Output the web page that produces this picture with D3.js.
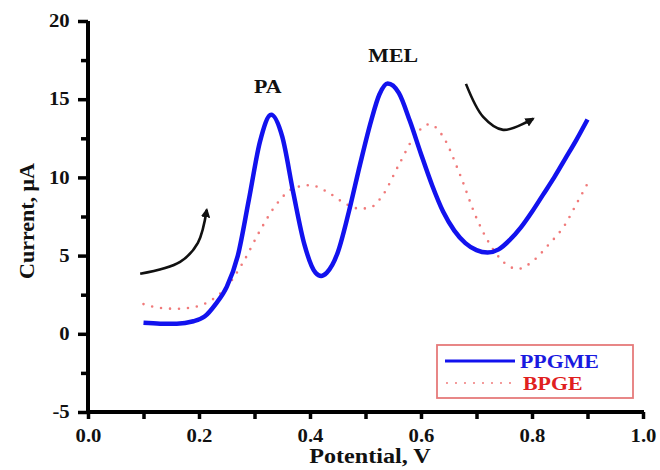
<!DOCTYPE html>
<html><head><meta charset="utf-8">
<script src="https://cdn.jsdelivr.net/npm/d3@7/dist/d3.min.js"></script>
<style>body{margin:0;background:#fff}svg{display:block}</style>
</head><body>
<svg id="c" width="660" height="470"></svg>
<script>
const xTicks = [0.0, 0.2, 0.4, 0.6, 0.8, 1.0];
const yTicks = [-5, 0, 5, 10, 15, 20];
const ppgmeX = [0.1,0.13,0.16,0.19,0.21,0.23,0.25,0.27,0.29,0.31,0.33,0.35,0.37,0.39,0.41,0.42,0.43,0.45,0.47,0.49,0.51,0.525,0.54,0.56,0.58,0.6,0.62,0.64,0.66,0.68,0.7,0.72,0.74,0.76,0.78,0.8,0.82,0.84,0.86,0.88,0.9];
const ppgmeY = [0.7,0.65,0.65,0.8,1.1,1.9,3.0,5.0,8.6,12.3,14.0,12.6,9.0,5.7,3.9,3.7,3.9,5.2,7.8,10.8,13.6,15.3,16.0,15.4,13.6,11.5,9.5,7.8,6.6,5.8,5.35,5.2,5.4,6.0,6.8,7.8,8.9,10.0,11.2,12.4,13.7];
const bpgeX = [0.1,0.13,0.16,0.19,0.22,0.25,0.28,0.31,0.34,0.37,0.4,0.43,0.46,0.49,0.51,0.53,0.56,0.59,0.615,0.64,0.67,0.7,0.73,0.755,0.775,0.8,0.83,0.86,0.88,0.9];
const bpgeY = [1.9,1.65,1.6,1.7,2.1,3.0,4.6,6.6,8.3,9.3,9.5,9.1,8.4,8.0,8.1,8.8,10.8,12.7,13.4,12.6,10.2,7.4,5.4,4.4,4.15,4.6,5.7,7.0,8.3,9.6];
const arrow1 = [[0.094,3.84],[0.166,4.6],[0.198,5.82],[0.214,7.93]];
const arrow2 = [[0.681,15.98],[0.712,13.87],[0.748,13.04],[0.802,13.75]];
const peakLabels = [{t:"PA",x:0.324,y:15.4},{t:"MEL",x:0.55,y:17.4}];
const seriesNames = ["PPGME","BPGE"];

const svg = d3.select("#c");
const x = d3.scaleLinear().domain([0,1]).range([88,643]);
const y = d3.scaleLinear().domain([-5,20]).range([412,21]);
const font = "'Liberation Serif','Times New Roman',serif";
const SX = 1.15;
const isMajorX = d => Math.round(d*10)%2===0;
const isMajorY = d => Math.round(d*2)%10===0;

// axes
const xAxis = d3.axisBottom(x).tickValues(d3.range(0,1.0001,0.1)).tickSize(7)
  .tickFormat(d=> isMajorX(d) ? d3.format(".1f")(d) : "");
const gx = svg.append("g").attr("transform",`translate(0,${y(-5)})`).call(xAxis);
const yAxis = d3.axisLeft(y).tickValues(d3.range(-5,20.001,2.5)).tickSize(9)
  .tickFormat(d=> isMajorY(d) ? String(Math.round(d)) : "");
const gy = svg.append("g").attr("transform",`translate(${x(0)},0)`).call(yAxis);
[gx,gy].forEach(g=>{
  g.select(".domain").attr("stroke","#000").attr("stroke-width",4);
  g.selectAll(".tick line").attr("stroke","#000").attr("stroke-width",3.5);
  g.selectAll(".tick text").attr("font-family",font).attr("font-weight","bold").attr("font-size",18).attr("fill","#111");
});
gy.selectAll(".tick line").attr("x2",d=>isMajorY(d)?-10:-7);
gx.select(".domain").attr("d",`M${x(0)-2},0H${x(1)+1}`);
gy.select(".domain").attr("d",`M0,${y(20)}V${y(-5)+2}`);
gx.selectAll(".tick text").attr("y",30).attr("dy",0).attr("transform",`scale(${SX},1)`);
gy.selectAll(".tick text").attr("x",-16).attr("transform",`scale(${SX},1)`);

function label(txt, tx, ty, size, opts={}){
  return svg.append("text").attr("transform",`translate(${tx},${ty}) ${opts.rot?`rotate(${opts.rot})`:""} scale(${opts.rot?1:SX},1)`)
    .attr("text-anchor",opts.anchor||"middle").attr("font-family",font).attr("font-weight","bold")
    .attr("font-size",size).attr("fill",opts.fill||"#111").text(txt);
}
label("Potential, V", 370, 463, 21);
label("Current, μA", 34, 221, 22, {rot:-90});

// curves
const line = d3.line().x(d=>x(d[0])).y(d=>y(d[1])).curve(d3.curveMonotoneX);
svg.append("path").datum(bpgeX.map((v,i)=>[v,bpgeY[i]])).attr("d",line)
  .attr("fill","none").attr("stroke","#f07a7a").attr("stroke-width",2.6)
  .attr("stroke-dasharray","0,9").attr("stroke-linecap","round");
svg.append("path").datum(ppgmeX.map((v,i)=>[v,ppgmeY[i]])).attr("d",line)
  .attr("fill","none").attr("stroke","#1212ee").attr("stroke-width",4.5);

// arrows
const defs = svg.append("defs");
defs.append("marker").attr("id","ah").attr("viewBox","0 0 10 10").attr("refX",8).attr("refY",5)
  .attr("markerWidth",3.6).attr("markerHeight",3.6).attr("orient","auto")
  .append("path").attr("d","M0,0L10,5L0,10z").attr("fill","#111");
const aLine = d3.line().x(d=>x(d[0])).y(d=>y(d[1])).curve(d3.curveCatmullRom);
[arrow1,arrow2].forEach(a=>{
  svg.append("path").datum(a).attr("d",aLine).attr("fill","none").attr("stroke","#111")
    .attr("stroke-width",2.6).attr("marker-end","url(#ah)");
});

// peak labels
peakLabels.forEach(p=> label(p.t, x(p.x), y(p.y), 19));

// legend
const lg = svg.append("g");
lg.append("rect").attr("x",437).attr("y",345).attr("width",196).attr("height",53)
  .attr("fill","#fff").attr("stroke","#e67a7a").attr("stroke-width",1.8);
lg.append("line").attr("x1",445).attr("x2",515).attr("y1",361).attr("y2",361)
  .attr("stroke","#1212ee").attr("stroke-width",3);
lg.append("line").attr("x1",447).attr("x2",512).attr("y1",383).attr("y2",383)
  .attr("stroke","#f07a7a").attr("stroke-width",2).attr("stroke-dasharray","0,9").attr("stroke-linecap","round");
label(seriesNames[0], 520, 368, 19, {anchor:"start", fill:"#1a1ae0"});
label(seriesNames[1], 523, 390, 19, {anchor:"start", fill:"#e02020"});
</script>
</body></html>
